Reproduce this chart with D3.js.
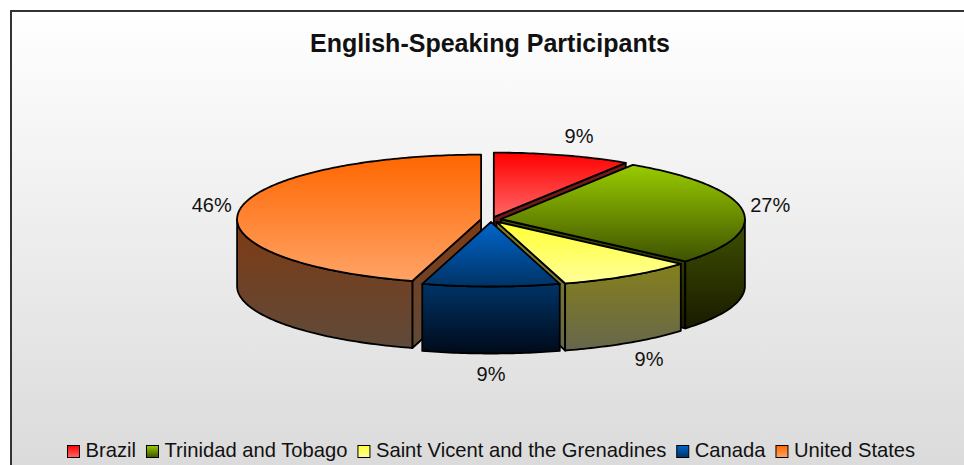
<!DOCTYPE html>
<html>
<head>
<meta charset="utf-8">
<script src="https://cdn.jsdelivr.net/npm/d3@7"></script>
<style>
  html, body { margin: 0; padding: 0; background: #fff; }
  svg { display: block; }
  text { font-family: "Liberation Sans", Arial, sans-serif; fill: #111; }
</style>
</head>
<body>
<script>
var title = "English-Speaking Participants";
var categories = ["Brazil", "Trinidad and Tobago", "Saint Vicent and the Grenadines", "Canada", "United States"];
var participants = [1, 3, 1, 1, 5];
var percentLabels = ["9%", "27%", "9%", "9%", "46%"];
var topColors = [["#ff0000", "#ff6666"], ["#99cc00", "#3f5200"], ["#ffff33", "#ffff99"], ["#0066cc", "#003366"], ["#ff6600", "#ffa366"]];
var wallColors = [["#7a1a1a", "#5a1a1a"], ["#3f5200", "#1a1a00"], ["#85801a", "#66664d"], ["#003366", "#000a1a"], ["#7f3a12", "#5f4a3a"]];

var width = 964;
var height = 465;
var cx = 491, cy = 219.5;      // pie centre before the slices are pulled out
var rx = 244, ry = 64.5;       // top ellipse
var depth = 67;
var explodeX = 10, explodeY = 2.5;

var svg = d3.select("body").append("svg")
            .attr("width", width)
            .attr("height", height);
var defs = svg.append("defs");

function addGradient(id, colors) {
  var g = defs.append("linearGradient")
              .attr("id", id)
              .attr("x1", 0).attr("y1", 0)
              .attr("x2", 0).attr("y2", 1);
  g.append("stop").attr("offset", "0%").attr("stop-color", colors[0]);
  g.append("stop").attr("offset", "100%").attr("stop-color", colors[1]);
}

addGradient("panel", ["#ffffff", "#dadada"]);
topColors.forEach(function(c, i) { addGradient("top" + i, c); });
wallColors.forEach(function(c, i) { addGradient("wall" + i, c); });

svg.append("rect")
    .attr("x", 11).attr("y", 11)
    .attr("width", width).attr("height", height)
    .attr("fill", "url(#panel)")
    .attr("stroke", "#333")
    .attr("stroke-width", 2);

svg.append("text")
    .attr("x", 490)
    .attr("y", 52)
    .attr("text-anchor", "middle")
    .attr("font-weight", "bold")
    .attr("font-size", 25)
    .text(title);

var pie = d3.pie().sort(null);
var slices = pie(participants);

var xScale = d3.scaleLinear().domain([-1, 1]).range([-rx, rx]);
var yScale = d3.scaleLinear().domain([-1, 1]).range([-ry, ry]);
var line = d3.line().curve(d3.curveLinear);

function midAngle(s) {
  return (s.startAngle + s.endAngle) / 2;
}

function apexOf(s) {
  var mid = midAngle(s);
  return [cx + explodeX * Math.sin(mid), cy - explodeY * Math.cos(mid)];
}

function rimPoint(apex, a, drop) {
  return [apex[0] + xScale(Math.sin(a)), apex[1] + yScale(-Math.cos(a)) + drop];
}

function rim(apex, a0, a1, drop) {
  var n = Math.max(2, Math.ceil(Math.abs(a1 - a0) * 60));
  return d3.range(n + 1).map(function(k) {
    return rimPoint(apex, a0 + (a1 - a0) * k / n, drop);
  });
}

function topPath(s) {
  var apex = apexOf(s);
  return line([apex].concat(rim(apex, s.startAngle, s.endAngle, 0))) + "Z";
}

// outer wall, only the arc that faces the viewer
function wallPath(s) {
  var a0 = Math.max(s.startAngle, Math.PI / 2);
  var a1 = Math.min(s.endAngle, Math.PI * 1.5);
  if (a1 <= a0) return null;
  var apex = apexOf(s);
  return line(rim(apex, a0, a1, 0).concat(rim(apex, a1, a0, depth))) + "Z";
}

// flat cut face running from the apex to the rim
function cutPath(s, a) {
  var apex = apexOf(s);
  var p = rimPoint(apex, a, 0);
  return line([apex, p, [p[0], p[1] + depth], [apex[0], apex[1] + depth]]) + "Z";
}

var order = [4, 0, 1, 2, 3];

var groups = svg.selectAll(".slice")
                .data(order.map(function(i) { return slices[i]; }))
                .enter()
                  .append("g")
                  .attr("class", "slice")
                  .attr("stroke", "#000")
                  .attr("stroke-width", 1.8)
                  .attr("stroke-linejoin", "round");

groups.each(function(s) {
  var g = d3.select(this);
  var faces = [];
  // cut faces turned towards the viewer
  if (s.index === 4) faces.push(s.startAngle);
  else if (s.index !== 3) faces.push(s.endAngle);
  faces.forEach(function(a) {
    g.append("path").attr("d", cutPath(s, a)).attr("fill", "url(#wall" + s.index + ")");
  });
  var w = wallPath(s);
  if (w) g.append("path").attr("d", w).attr("fill", "url(#wall" + s.index + ")");
  g.append("path").attr("d", topPath(s)).attr("fill", "url(#top" + s.index + ")");
});

// percentage labels
svg.selectAll(".pct")
    .data(slices)
    .enter()
      .append("text")
      .attr("class", "pct")
      .attr("font-size", 20)
      .attr("text-anchor", "middle")
      .attr("dominant-baseline", "central")
      .attr("x", function(s) {
        var sin = Math.sin(midAngle(s));
        var side = Math.abs(sin) < 0.01 ? 0 : (sin > 0 ? 1 : -1);
        return apexOf(s)[0] + (rx + 16) * sin + 12 * side;
      })
      .attr("y", function(s) {
        var mid = midAngle(s);
        var drop = Math.cos(mid) < 0 ? depth : 0;
        var sin = Math.sin(mid);
        return apexOf(s)[1] - (ry + 20) * Math.cos(mid) + drop - 2 * sin * sin;
      })
      .text(function(s) { return percentLabels[s.index]; });

// legend, items laid out one after the other
var legendX = 67.5;
categories.forEach(function(name, i) {
  svg.append("rect")
      .attr("x", legendX).attr("y", 445.5)
      .attr("width", 12).attr("height", 12)
      .attr("fill", "url(#top" + i + ")")
      .attr("stroke", "#000");
  var t = svg.append("text")
      .attr("x", legendX + 18)
      .attr("y", 457)
      .attr("font-size", 20.2)
      .text(name);
  legendX += 18 + t.node().getComputedTextLength() + 10.5;
});
</script>
</body>
</html>
